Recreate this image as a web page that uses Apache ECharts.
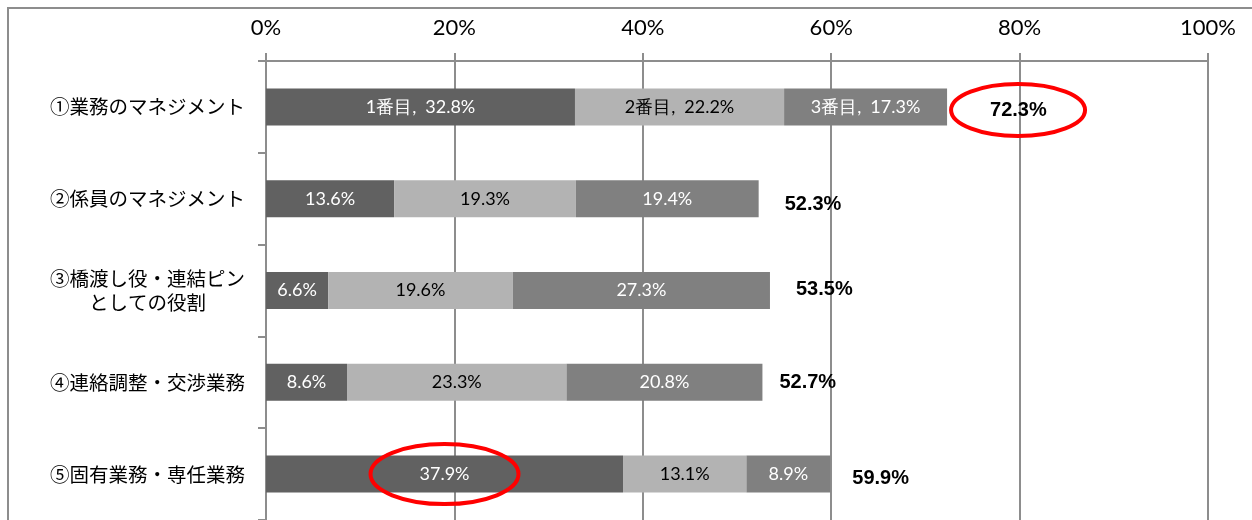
<!DOCTYPE html>
<html>
<head>
<meta charset="utf-8">
<script src="https://cdn.jsdelivr.net/npm/echarts@6/dist/echarts.min.js"></script>
<style>
html,body{margin:0;padding:0;background:#fff;}
#main{width:1252px;height:520px;}
</style>
</head>
<body>
<div id="main"></div>
<script>
const categories = ['①業務のマネジメント', '②係員のマネジメント', '③橋渡し役・連結ピン\nとしての役割', '④連絡調整・交渉業務', '⑤固有業務・専任業務'];
const seriesNames = ['1番目', '2番目', '3番目'];
const first = [32.8, 13.6, 6.6, 8.6, 37.9];
const second = [22.2, 19.3, 19.6, 23.3, 13.1];
const third = [17.3, 19.4, 27.3, 20.8, 8.9];
const totals = [72.3, 52.3, 53.5, 52.7, 59.9];
const xTicks = [0, 20, 40, 60, 80, 100];

const colors = ['#616161', '#b3b3b3', '#808080'];
const labelColors = ['#ffffff', '#000000', '#ffffff'];
const totalGap = [43, 26, 26, 17, 22];
const totalDy = [4, 6, -1, 0, 4];

const chart = echarts.init(document.getElementById('main'));
const numFont = 'Lato, "Open Sans", sans-serif';
const BW = 37;

function segSeries(i, data) {
  return {
    name: seriesNames[i],
    type: 'bar',
    stack: 'a',
    barWidth: BW,
    barGap: '-100%',
    data: data,
    itemStyle: { color: colors[i] },
    label: {
      show: true,
      position: 'inside',
      color: labelColors[i],
      fontFamily: numFont,
      fontSize: 18,
      formatter: p => (p.dataIndex === 0 ? seriesNames[i] + ',\u2002' : '') + p.value.toFixed(1) + '%'
    }
  };
}

const option = {
  animation: false,
  grid: { left: 266, right: 44, top: 61, height: 462, containLabel: false },
  xAxis: {
    type: 'value',
    position: 'top',
    min: xTicks[0],
    max: xTicks[xTicks.length - 1],
    interval: 20,
    axisLine: { show: true, lineStyle: { color: '#8d8d8d', width: 2 } },
    axisTick: { show: true, length: 8, lineStyle: { color: '#8d8d8d', width: 2 } },
    splitLine: { show: true, lineStyle: { color: '#8d8d8d', width: 2 } },
    axisLabel: { formatter: '{value}%', color: '#000', fontFamily: numFont, fontSize: 22, margin: 22 }
  },
  yAxis: {
    type: 'category',
    inverse: true,
    data: categories,
    axisLine: { show: true, lineStyle: { color: '#8d8d8d', width: 2 } },
    axisTick: { show: true, length: 8, alignWithLabel: false, lineStyle: { color: '#8d8d8d', width: 2 } },
    splitLine: { show: false },
    axisLabel: {
      margin: 21,
      color: '#000',
      fontFamily: '"Noto Sans CJK JP", sans-serif',
      fontSize: 19.5,
      lineHeight: 24,
      formatter: v => v.split('\n').map(s => '{c|' + s + '}').join('\n'),
      rich: { c: { align: 'center', fontSize: 19.5, lineHeight: 24, fontFamily: '"Noto Sans CJK JP", sans-serif', color: '#000' } }
    }
  },
  series: [
    segSeries(0, first),
    segSeries(1, second),
    segSeries(2, third),
    {
      name: 'total',
      type: 'bar',
      barWidth: BW,
      barGap: '-100%',
      z: 1,
      itemStyle: { color: 'rgba(0,0,0,0)' },
      data: totals.map((v, i) => ({ value: v, label: { offset: [totalGap[i], totalDy[i]] } })),
      label: {
        show: true,
        position: 'right',
        distance: 0,
        color: '#000',
        fontWeight: 'bold',
        fontFamily: '"Liberation Sans", Arial, sans-serif',
        fontSize: 20,
        formatter: p => p.value.toFixed(1) + '%'
      }
    }
  ]
};
chart.setOption(option);

const p1 = chart.convertToPixel({ xAxisIndex: 0, yAxisIndex: 0 }, [totals[0], 0]);
const p2 = chart.convertToPixel({ xAxisIndex: 0, yAxisIndex: 0 }, [first[4] / 2, 4]);
chart.setOption({
  graphic: [
    { type: 'rect', z: 0, silent: true, shape: { x: 8, y: 8, width: 1400, height: 700 }, style: { fill: 'none', stroke: '#8d8d8d', lineWidth: 2 } },
    { type: 'ellipse', z: 100, silent: true, shape: { cx: p1[0] + totalGap[0] + 28, cy: p1[1] + 3, rx: 67, ry: 26 }, style: { fill: 'none', stroke: '#ff0000', lineWidth: 4 } },
    { type: 'ellipse', z: 100, silent: true, shape: { cx: p2[0], cy: p2[1], rx: 74, ry: 30 }, style: { fill: 'none', stroke: '#ff0000', lineWidth: 4 } }
  ]
});
</script>
</body>
</html>
